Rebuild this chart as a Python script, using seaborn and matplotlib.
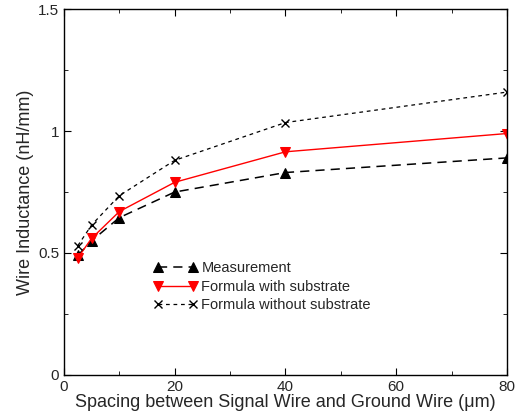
import pandas as pd
import matplotlib.pyplot as plt
import seaborn as sns
from matplotlib.ticker import MultipleLocator

sns.set_style("ticks")
plt.rcParams['font.family'] = ['Liberation Sans', 'DejaVu Sans']

# data
spacing = [2.5, 5, 10, 20, 40, 80]
measurement = [0.49, 0.55, 0.645, 0.75, 0.83, 0.89]
with_sub = [0.48, 0.56, 0.67, 0.79, 0.915, 0.99]
without_sub = [0.53, 0.615, 0.735, 0.88, 1.035, 1.16]
yticks = [0, 0.5, 1, 1.5]
ytick_labels = ["0", "0.5", "1", "1.5"]

fig = plt.figure(figsize=(5.2, 4.17), dpi=100)
ax = fig.add_axes([0.123, 0.101, 0.852, 0.877])

sns.lineplot(x=spacing, y=measurement, ax=ax, color="black", marker="^", markersize=7,
             markeredgecolor="black", linestyle=(0, (6, 4)), linewidth=1.1, label="Measurement")
sns.lineplot(x=spacing, y=with_sub, ax=ax, color="red", marker="v", markersize=7,
             markeredgecolor="red", linestyle="-", linewidth=1.0, label="Formula with substrate")
sns.lineplot(x=spacing, y=without_sub, ax=ax, color="black", marker="x", markersize=6,
             markeredgecolor="black", markeredgewidth=1.0,
             linestyle=(0, (3, 3)), linewidth=0.9, label="Formula without substrate")

ax.set_xlim(0, 80)
ax.set_ylim(0, 1.5)
ax.xaxis.set_major_locator(MultipleLocator(20))
ax.xaxis.set_minor_locator(MultipleLocator(10))
ax.set_yticks(yticks, ytick_labels)
ax.yaxis.set_minor_locator(MultipleLocator(0.25))
ax.tick_params(which="both", direction="in", top=True, right=True, labelsize=11, color="black")
ax.tick_params(which="major", length=5)
ax.tick_params(which="minor", length=3)
for s in ax.spines.values():
    s.set_color("black")
    s.set_linewidth(1.0)
ax.set_xlabel("Spacing between Signal Wire and Ground Wire (μm)", fontsize=13, labelpad=0)
ax.set_ylabel("Wire Inductance (nH/mm)", fontsize=13, labelpad=3)

ax.legend(loc="lower left", bbox_to_anchor=(0.185, 0.152), frameon=False, numpoints=2,
          handlelength=3.0, handletextpad=0.3, labelspacing=0.3, fontsize=10.5, borderpad=0)

fig.savefig("out.png", dpi=100)
